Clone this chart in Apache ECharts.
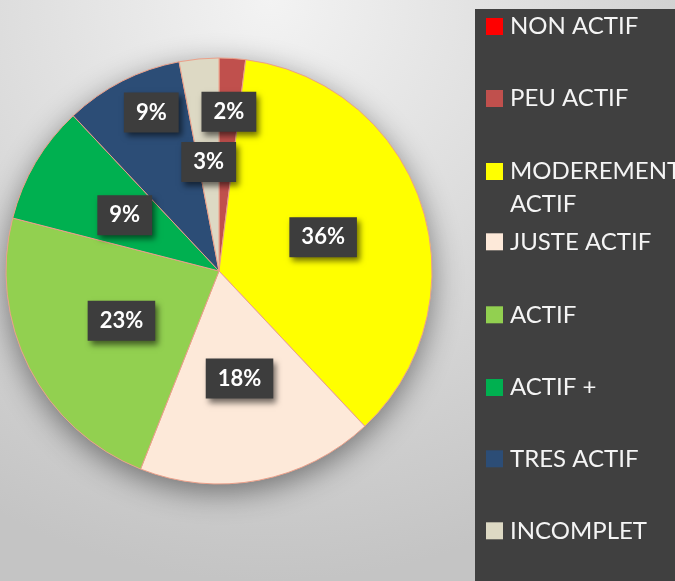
<html>
<head>
    <meta charset="utf-8">
    <title>ECharts</title>
    <script src="https://cdn.jsdelivr.net/npm/echarts@6/dist/echarts.min.js"></script>
    <style>
        body { margin: 0; }
    </style>
</head>
<body>
    <div id="main" style="width: 675px;height:581px;"></div>
    <script type="text/javascript">
        // categories (legend order = clockwise order from 12 o'clock)
        var names = ['NON ACTIF', 'PEU ACTIF', 'MODEREMENT ACTIF', 'JUSTE ACTIF', 'ACTIF', 'ACTIF +', 'TRES ACTIF', 'INCOMPLET'];
        // share of each category, in %
        var values = [0, 2, 36, 18, 23, 9, 9, 3];
        var colors = ['#ff0000', '#c0504d', '#ffff00', '#fde9d9', '#92d050', '#00b050', '#2c4d76', '#ddd9c4'];

        // two labels were pushed outward in the original (overlap avoidance)
        var labelShift = { 1: [3, -50], 6: [-18, -61] };

        // legend spacing: symmetric padding keeps the icon on the text line
        var legendPad = [
            [36.5, 0, 36.5, 2],
            [11.5, 0, 11.5, 2],
            [0, 0, 0, 2],
            [8.8, 0, 8.8, 2],
            [40.2, 0, 40.2, 2],
            [8.5, 0, 8.5, 2],
            [38.8, 0, 38.8, 2],
            [9.2, 0, 9.2, 2]
        ];

        var myChart = echarts.init(document.getElementById('main'));

        var pieData = [];
        var legendData = [];
        for (var i = 0; i < names.length; i++) {
            var item = { name: names[i], value: values[i], itemStyle: { color: colors[i] } };
            if (values[i] === 0) {
                item.label = { show: false };
                item.itemStyle.borderWidth = 0;
            }
            pieData.push(item);

            var ts = { padding: legendPad[i], lineHeight: 24 };
            if (names[i] === 'MODEREMENT ACTIF') ts.lineHeight = 33;
            legendData.push({ name: names[i], textStyle: ts });
        }

        var option = {
            animation: false,
            backgroundColor: {
                type: 'radial', x: 0.4, y: 0.0, r: 1.0,
                colorStops: [
                    { offset: 0, color: '#f3f3f3' },
                    { offset: 1, color: '#c4c4c4' }
                ]
            },
            graphic: [{
                type: 'rect',
                left: 475, top: 9, z: 0,
                shape: { width: 210, height: 580 },
                style: { fill: '#404040' }
            }],
            legend: {
                orient: 'vertical',
                left: 486, top: -22,
                padding: 0,
                itemGap: 0,
                itemWidth: 17, itemHeight: 17,
                icon: 'rect',
                itemStyle: { borderWidth: 0 },
                data: legendData,
                formatter: function (name) {
                    // blank first line so the icon lines up with "MODEREMENT"
                    return name === 'MODEREMENT ACTIF' ? ' \nMODEREMENT\nACTIF' : name;
                },
                textStyle: {
                    color: '#f4f4f4',
                    fontFamily: 'Lato',
                    fontSize: 24
                }
            },
            series: [
                {
                    // shadow disc under the pie
                    type: 'pie',
                    silent: true,
                    center: [219, 271],
                    radius: 213,
                    label: { show: false },
                    legendHoverLink: false,
                    data: [{ name: 'shadow', value: 1 }],
                    itemStyle: {
                        color: '#d0d0d0',
                        shadowColor: 'rgba(0,0,0,0.45)',
                        shadowBlur: 30,
                        shadowOffsetY: 8
                    },
                    z: 1
                },
                {
                    type: 'pie',
                    center: [219, 271],
                    radius: 213,
                    startAngle: 90,
                    clockwise: true,
                    data: pieData,
                    itemStyle: {
                        borderColor: '#eba08a',
                        borderWidth: 1
                    },
                    label: {
                        show: true,
                        position: 'inside',
                        formatter: '{c}%',
                        color: '#ffffff',
                        fontFamily: 'Lato',
                        fontWeight: 'bold',
                        fontSize: 22,
                        lineHeight: 22,
                        backgroundColor: '#3d3d3d',
                        padding: [9, 12, 9, 12],
                        shadowColor: 'rgba(0,0,0,0.55)',
                        shadowBlur: 6,
                        shadowOffsetX: 3,
                        shadowOffsetY: 4
                    },
                    labelLayout: function (params) {
                        var s = labelShift[params.dataIndex];
                        if (s) return { dx: s[0], dy: s[1] };
                        return {};
                    },
                    z: 2
                }
            ]
        };

        myChart.setOption(option);
    </script>
</body>
</html>
